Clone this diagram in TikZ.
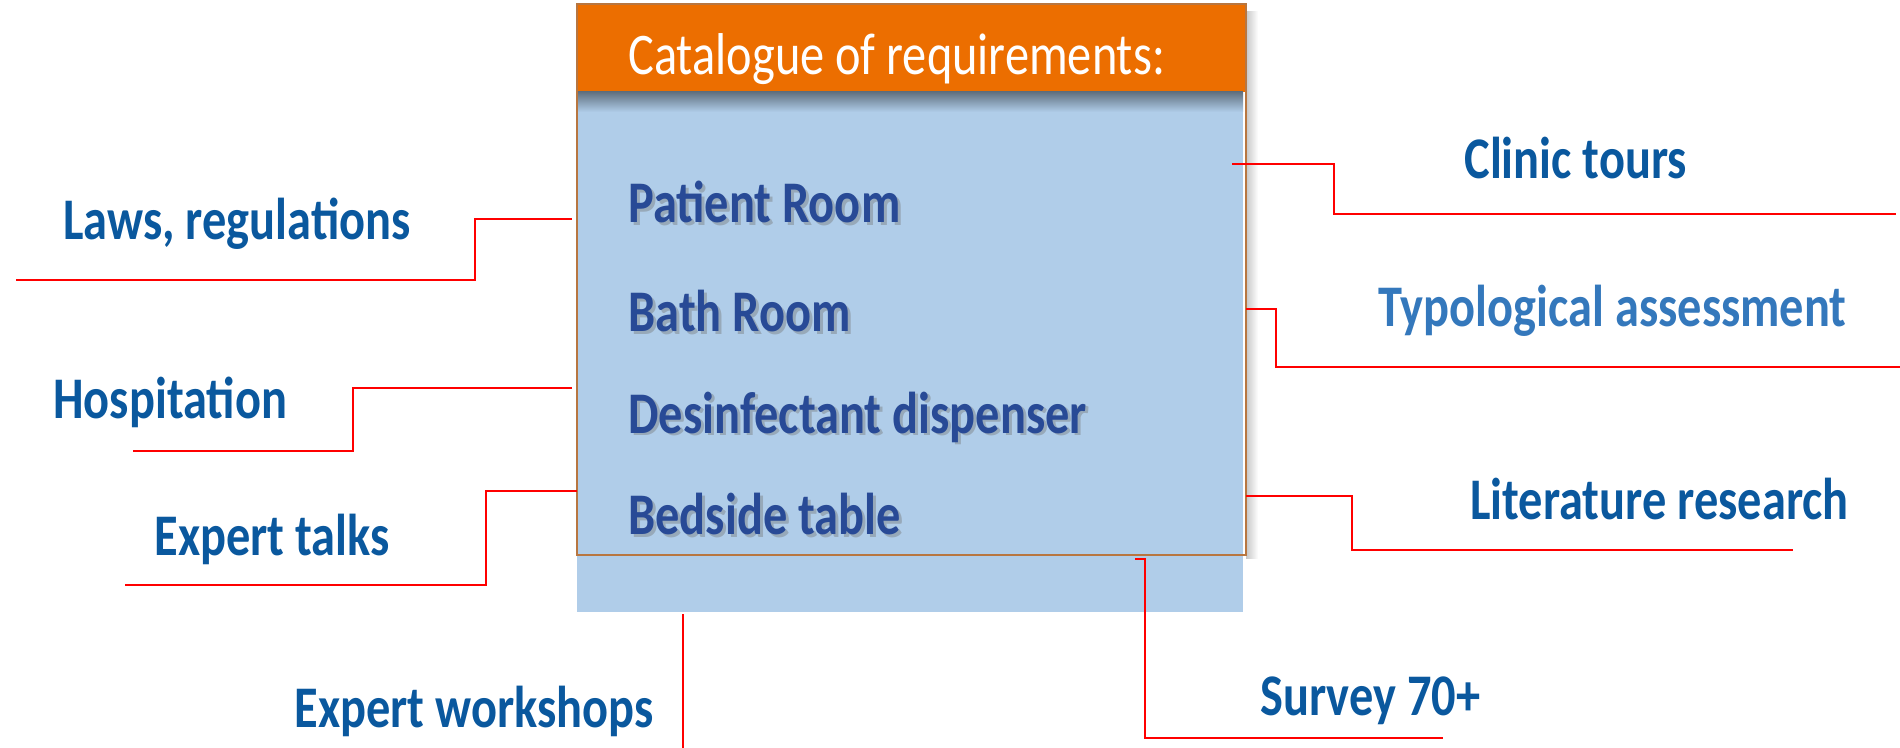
\documentclass[tikz,border=0pt]{standalone}
\usepackage{fontspec}
\setmainfont{Carlito}[FakeStretch=0.82]

\definecolor{headorange}{RGB}{236,110,0}
\definecolor{boxblue}{RGB}{176,205,233}
\definecolor{boxedge}{RGB}{184,118,64}
\definecolor{itemblue}{RGB}{40,74,150}
\definecolor{srcblue}{RGB}{10,88,158}
\definecolor{srclight}{RGB}{52,120,188}
\definecolor{linkred}{RGB}{255,0,0}

\tikzset{
    srctext/.style={anchor=base west, inner sep=0pt, text=srcblue,
        font=\bfseries\fontsize{29.5}{34}\selectfont},
    itemtext/.style={anchor=base west, inner sep=0pt, text=itemblue,
        font=\bfseries\fontsize{29.5}{34}\selectfont},
    itemshadow/.style={itemtext, text=black!55, opacity=0.4},
    link/.style={draw=linkred, line width=1.1pt},
}

\begin{document}
\begin{tikzpicture}[x=0.5pt, y=-0.5pt]
    \useasboundingbox (0,0) rectangle (1900,748);

    % Catalogue box
    \fill[boxblue] (577,4) rectangle (1243,612);
    \shade[left color=black!22, right color=white] (1246,12) rectangle (1258,558);
    \fill[headorange] (577,4) rectangle (1246,92);
    \shade[top color=black!45!boxblue, bottom color=boxblue] (577,92) rectangle (1243,112);
    \draw[boxedge, line width=0.8pt] (577,4) rectangle (1246,555);
    \node[anchor=base west, inner sep=0pt, text=white,
        font=\fontsize{29.5}{34}\selectfont] (head) at (628,75) {Catalogue of requirements:};

    % Requirement items with shadow
    \foreach \n/\txt/\yy in {patient/Patient Room/223, bath/Bath Room/332,
            dispenser/Desinfectant dispenser/433, table/Bedside table/534} {
        \node[itemshadow] (\n s) at (631,\yy+3) {\txt};
        \node[itemtext] (\n) at (628,\yy) {\txt};
    }

    % Sources on the left
    \node[srctext] (laws) at (63,240) {Laws, regulations};
    \node[srctext] (hosp) at (53,419) {Hospitation};
    \node[srctext] (talks) at (154,555) {Expert talks};
    \coordinate (lawsA) at (572,219);  \coordinate (lawsB) at (475,280);  \coordinate (lawsC) at (16,280);
    \coordinate (hospA) at (572,388);  \coordinate (hospB) at (353,451);  \coordinate (hospC) at (133,451);
    \coordinate (talksA) at (577,491); \coordinate (talksB) at (486,585); \coordinate (talksC) at (125,585);
    \draw[link] (lawsA) -| (lawsB) -- (lawsC);
    \draw[link] (hospA) -| (hospB) -- (hospC);
    \draw[link] (talksA) -| (talksB) -- (talksC);

    % Sources on the right
    \node[srctext] (tours) at (1464,179) {Clinic tours};
    \node[srctext, text=srclight] (typo) at (1378,327) {Typological assessment};
    \node[srctext] (lit) at (1470,519) {Literature research};
    \coordinate (toursA) at (1232,164); \coordinate (toursB) at (1334,214); \coordinate (toursC) at (1896,214);
    \coordinate (typoA) at (1246,309);  \coordinate (typoB) at (1276,367);  \coordinate (typoC) at (1900,367);
    \coordinate (litA) at (1246,496);   \coordinate (litB) at (1352,550);   \coordinate (litC) at (1793,550);
    \draw[link] (toursA) -| (toursB) -- (toursC);
    \draw[link] (typoA) -| (typoB) -- (typoC);
    \draw[link] (litA) -| (litB) -- (litC);

    % Sources below
    \node[srctext] (shops) at (294,727) {Expert workshops};
    \node[srctext] (survey) at (1260,715) {Survey 70+};
    \coordinate (shopsA) at (683,614); \coordinate (shopsB) at (683,748);
    \coordinate (surveyA) at (1135,559); \coordinate (surveyB) at (1145,738); \coordinate (surveyC) at (1443,738);
    \draw[link, line width=0.8pt] (shopsA) -- (shopsB);
    \draw[link] (surveyA) -| (surveyB) -- (surveyC);

\end{tikzpicture}
\end{document}
